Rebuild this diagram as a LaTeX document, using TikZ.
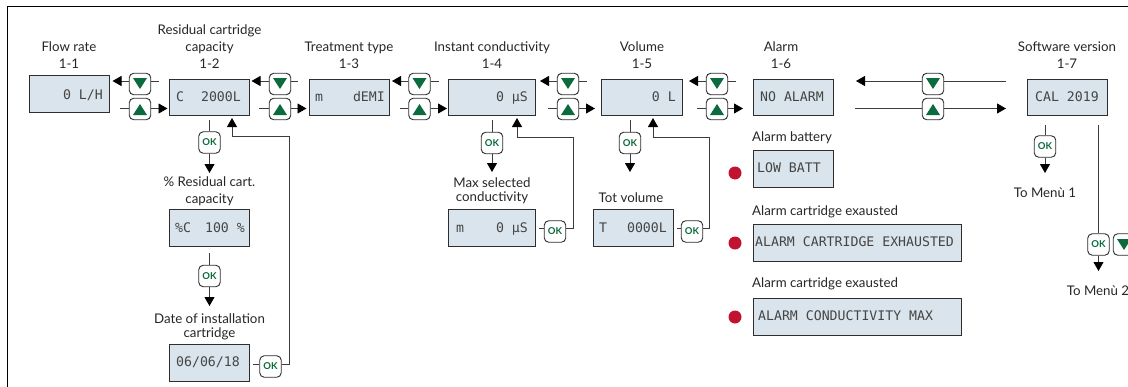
\documentclass[tikz,border=0pt]{standalone}
\usepackage{fontspec}
\setmainfont{Lato}
\newfontfamily\lcdfont{DejaVu Sans Mono}
\usetikzlibrary{arrows.meta}
\definecolor{lcdfill}{HTML}{D9E4EC}
\definecolor{lcdline}{HTML}{2E2E2E}
\definecolor{lcdink}{HTML}{454545}
\definecolor{wirecol}{HTML}{3C3C3C}
\definecolor{btngreen}{HTML}{0B6B3C}
\definecolor{alarmred}{HTML}{C1122F}
\tikzset{
  lcdbox/.style={draw=lcdline,fill=lcdfill,line width=1.2pt,inner sep=0pt,minimum height=36.5pt},
  lcdtext/.style={inner sep=0pt,text=lcdink,font=\lcdfont\fontsize{13.2}{14}\selectfont},
  lbl/.style={inner sep=0pt,align=center,text depth=0pt,text=black!85,font=\fontsize{13.3}{17}\selectfont},
  lblleft/.style={inner sep=0pt,anchor=base west,text=black!85,font=\fontsize{13.3}{14}\selectfont},
  navbtn/.style={draw=lcdline,fill=white,line width=0.9pt,rounded corners=4.5pt,minimum width=21.5pt,minimum height=21.5pt,inner sep=0pt},
  okbtn/.style={navbtn,text=btngreen,font=\bfseries\fontsize{9.5}{10}\selectfont},
  wire/.style={draw=wirecol,line width=0.95pt},
  tip/.style={wire,-{Triangle[length=9pt,width=10pt,color=black]}},
  dot/.style={circle,fill=alarmred,minimum size=13pt,inner sep=0pt}
}
% name, left x, top y, width
\newcommand{\lcd}[4]{\node[lcdbox,anchor=north west,minimum width=#4pt] (#1) at (#2,#3) {};}
% name, right x, mid y, text
\newcommand{\lcdr}[4]{\node[lcdtext,anchor=base east] (#1) at (#2,#3+4.8) {#4};}
\newcommand{\lcdl}[4]{\node[lcdtext,anchor=base west] (#1) at (#2,#3+4.8) {#4};}
% name, centre x, left tip, upper end, lower start, right tip
\newcommand{\navpair}[6]{%
  \node[navbtn] (#1d) at (#2,84) {};
  \node[navbtn] (#1u) at (#2,109) {};
  \fill[btngreen] (#2-7,78) -- (#2+7,78) -- (#2,89) -- cycle;
  \fill[btngreen] (#2-7,115) -- (#2+7,115) -- (#2,104) -- cycle;
  \coordinate (#1a) at (#3,81);
  \coordinate (#1b) at (#4,81);
  \coordinate (#1c) at (#5,108.5);
  \coordinate (#1e) at (#6,108.5);
  \draw[tip] (#1d.west |- #1a) -- (#1a);
  \draw[wire] (#1d.east |- #1b) -- (#1b);
  \draw[wire] (#1c) -- (#1u.west |- #1c);
  \draw[tip] (#1u.east |- #1e) -- (#1e);
}
% name, x, ystart, ybtn, ytip
\newcommand{\okdown}[5]{%
  \node[okbtn] (#1) at (#2,#4) {OK};
  \coordinate (#1s) at (#2,#3);
  \coordinate (#1t) at (#2,#5);
  \draw[wire] (#1s) -- (#1.north);
  \draw[tip] (#1.south) -- (#1t);
}
% name, source box, btn x, btn y, line y, corner x, corner y, tip x, tip y
\newcommand{\okback}[9]{%
  \node[okbtn] (#1) at (#3,#4) {OK};
  \coordinate (#1y) at (#3,#5);
  \coordinate (#1c) at (#6,#7);
  \coordinate (#1t) at (#8,#9);
  \draw[wire] ([xshift=3pt]#2.east |- #1y) -- (#1.west |- #1y);
  \draw[tip] (#1.east |- #1y) -| (#1c) -| (#1t);
}
\begin{document}
\begin{tikzpicture}[x=1pt,y=-1pt]
\useasboundingbox (0,0) rectangle (1128,386);
\clip (0,0) rectangle (1128,386);
\draw[line width=1pt,black] (7,400) -- (7,6) -- (1140,6);
% displays
\lcd{s11}{29}{75}{80}
\lcd{s12}{169}{78.5}{80}
\lcd{s13}{309}{78.5}{80}
\lcd{s14}{448}{78.5}{87}
\lcd{s15}{601}{78.5}{81}
\lcd{s16}{752.5}{78.5}{80.5}
\lcd{s17}{1027}{78.5}{80}
\lcd{s21}{169}{209}{80}
\lcd{s22}{169}{344}{80}
\lcd{s24}{448}{209}{87}
\lcd{s25}{593}{209}{80}
\lcd{a1}{753}{150}{80}
\lcd{a2}{753}{224}{208}
\lcd{a3}{753}{298}{208}
% display texts
\lcdr{t11}{103}{95}{0 L/H}
\lcdl{t12a}{176}{97}{C}
\lcdr{t12b}{241}{97}{2000L}
\lcdl{t13a}{315}{97}{m}
\lcdr{t13b}{385}{97}{dEMI}
\lcdr{t14}{528}{97}{0 µS}
\lcdr{t15}{676}{97}{0 L}
\lcdl{t16}{760}{97}{NO ALARM}
\lcdl{t17}{1035}{97}{CAL 2019}
\lcdl{t21a}{175}{228}{\%C}
\lcdr{t21b}{245}{228}{100 \%}
\lcdl{t22}{176}{362}{06/06/18}
\lcdl{t24a}{456}{228}{m}
\lcdr{t24b}{528}{228}{0 µS}
\lcdl{t25a}{599}{228}{T}
\lcdr{t25b}{667}{228}{0000L}
\lcdl{ta1}{757}{168}{LOW BATT}
\lcdl{ta2}{755}{242}{ALARM CARTRIDGE EXHAUSTED}
\lcdl{ta3}{758}{316}{ALARM CONDUCTIVITY MAX}
% labels
\node[lbl,anchor=south] (l11) at (69,68.5) {Flow rate\\1-1};
\node[lbl,anchor=south] (l12) at (209.5,68.5) {Residual cartridge\\capacity\\1-2};
\node[lbl,anchor=south] (l13) at (349,68.5) {Treatment type\\1-3};
\node[lbl,anchor=south] (l14) at (492,68.5) {Instant conductivity\\1-4};
\node[lbl,anchor=south] (l15) at (642,68.5) {Volume\\1-5};
\node[lbl,anchor=south] (l16) at (781,68.5) {Alarm\\1-6};
\node[lbl,anchor=south] (l17) at (1067,68.5) {Software version\\1-7};
\node[lbl,anchor=south] (l21) at (209.5,204) {\% Residual cart.\\capacity};
\node[lbl,anchor=south,font=\fontsize{13.3}{14.5}\selectfont] (l22) at (209.5,338) {Date of installation\\cartridge};
\node[lbl,anchor=south,font=\fontsize{13.3}{14}\selectfont] (l24) at (492,202) {Max selected\\conductivity};
\node[lbl,anchor=south] (l25) at (631,202.5) {Tot volume};
\node[lblleft] (la1) at (752,141) {Alarm battery};
\node[lblleft] (la2) at (752,215) {Alarm cartridge exausted};
\node[lblleft] (la3) at (752,287) {Alarm cartridge exausted};
\node[lbl,anchor=south] (m1) at (1045,197.5) {To Menù 1};
\node[lbl,anchor=south] (m2) at (1098,295.5) {To Menù 2};
% alarm dots
\node[dot] (d1) at (735,173) {};
\node[dot] (d2) at (735,243) {};
\node[dot] (d3) at (735,317) {};
% navigation pairs
\navpair{p1}{140}{112.5}{159}{120}{167.5}
\navpair{p2}{280}{251.5}{298}{259}{306.5}
\navpair{p3}{419.5}{392}{439}{400}{447}
\navpair{p4}{568}{540}{587}{548}{595}
\navpair{p5}{717}{689}{736}{697}{743}
\navpair{p6}{933}{856}{1006}{855}{1006}
% OK branches
\okdown{k12}{209.5}{120}{142.5}{173}
\okdown{k21}{209.5}{253}{276}{306}
\okdown{k14}{492}{120}{143}{172}
\okdown{k15}{630}{120}{143}{172}
\okdown{k17}{1045}{125}{146.5}{173}
\okdown{k18}{1098.5}{125}{244.5}{271}
\node[navbtn] (k18d) at (1124,244.5) {};
\fill[btngreen] (1117,239) -- (1131,239) -- (1124,250) -- cycle;
\okback{r22}{s22}{270.5}{366.5}{364}{289}{136}{232}{118}
\okback{r24}{s24}{555}{231.5}{228.5}{573}{137}{517}{118}
\okback{r25}{s25}{692}{231.5}{228.5}{709}{137}{653}{118}
\end{tikzpicture}
\end{document}
